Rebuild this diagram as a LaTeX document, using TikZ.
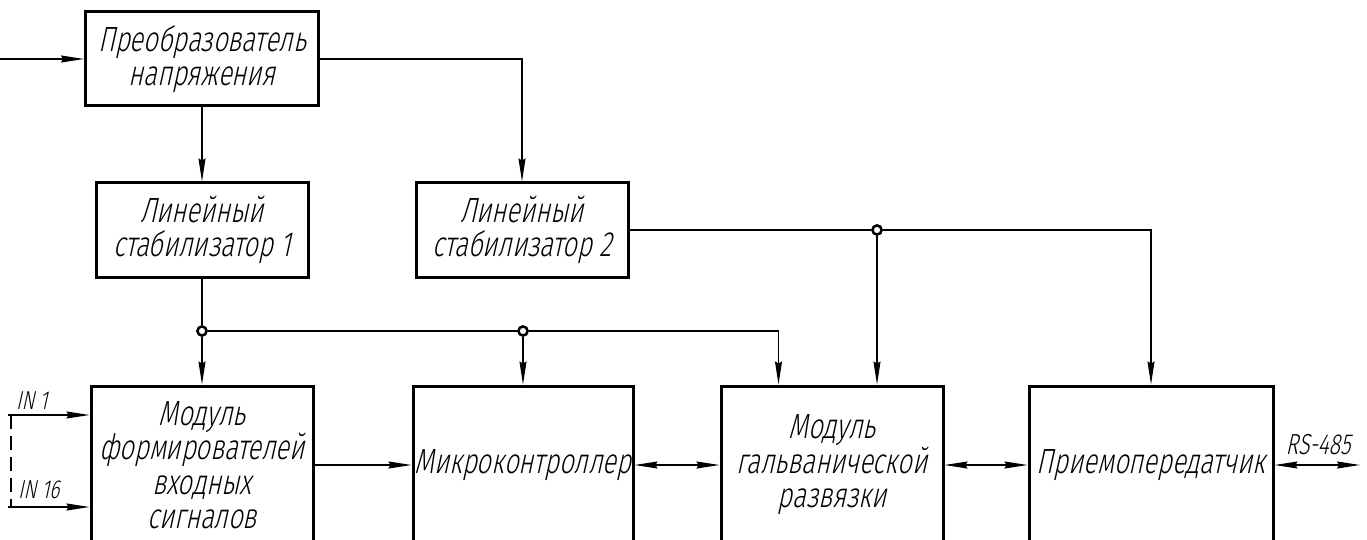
\documentclass[tikz,border=0pt]{standalone}
\usepackage{fontspec}
\newfontfamily\gost{Fira Sans Light}[FakeSlant=0.22,FakeStretch=0.73]
\usetikzlibrary{arrows.meta,calc}
\tikzset{
  block/.style={draw, line width=3pt, rectangle, inner sep=0pt, align=center,
    font=\gost\fontsize{35}{34.5}\selectfont},
  wire/.style={line width=1.4pt},
  tip/.tip={Stealth[length=23pt,width=7pt,inset=2pt]},
  arr/.style={wire, -tip},
  darr/.style={wire, tip-tip},
  junction/.style={circle, draw, fill=white, line width=2.4pt, minimum size=9pt, inner sep=0pt},
  sig/.style={inner sep=0pt}
}
\begin{document}
\begin{tikzpicture}[x=1pt,y=-1pt]
\clip (0,0) rectangle (1367,540);

% power supply chain
\node[block, minimum width=233pt, minimum height=94pt] (conv) at (202,59) {Преобразователь\\напряжения};
\node[block, minimum width=212pt, minimum height=94pt] (stab1) at (202,230) {Линейный\\стабилизатор 1};
\node[block, minimum width=212pt, minimum height=94pt] (stab2) at (522,230) {Линейный\\стабилизатор 2};

% functional modules
\node[block, minimum width=222pt, minimum height=158pt] (form) at (202,465) {Модуль\\формирователей\\входных\\сигналов};
\node[block, minimum width=220pt, minimum height=158pt] (mcu) at (523,465) {Микроконтроллер};
\node[block, minimum width=222pt, minimum height=158pt] (iso) at (832,465) {Модуль\\гальванической\\развязки};
\node[block, minimum width=244pt, minimum height=158pt] (trx) at (1151,465) {Приемопередатчик};

% junction points
\node[junction] (j1) at (202,331) {};
\node[junction] (j2) at (523,331) {};
\node[junction] (j3) at (877,230) {};

% free ends
\coordinate (pin) at (0,59);
\coordinate (in1) at (8,415);
\coordinate (in16) at (8,507);
\coordinate (rs) at (1360,465);

% supply wiring
\draw[arr] (pin) -- (conv.west);
\draw[arr] (conv.south) -- (stab1.north);
\draw[arr] (conv.east) -| (stab2.north);
\draw[wire] (stab1.south) -- (j1);
\draw[arr] (j1) -- (form.north);
\draw[wire] (j1) -- (j2);
\draw[arr] (j2) -- (mcu.north);
\draw[arr] (j2) -| ([xshift=59pt]iso.north west);
\draw[wire] (stab2.east) -- (j3);
\draw[arr] (j3) -- (j3 |- iso.north);
\draw[arr] (j3) -| (trx.north);

% signal path
\draw[arr] (in1) -- (in1 -| form.west);
\draw[arr] (in16) -- (in16 -| form.west);
\draw[wire, dash pattern=on 14pt off 7pt] ([xshift=3pt]in1) -- ([xshift=3pt]in16);
\draw[arr] (form.east) -- (mcu.west);
\draw[darr] (mcu.east) -- (iso.west);
\draw[darr] (iso.east) -- (trx.west);
\draw[darr] (trx.east) -- (rs);

% redraw junctions on top of the wires
\node[junction] at (j1) {};
\node[junction] at (j2) {};
\node[junction] at (j3) {};

% signal labels
\node[sig, font=\gost\fontsize{26}{26}\selectfont, anchor=south west] (l1) at (16,410) {IN 1};
\node[sig, font=\gost\fontsize{26}{26}\selectfont, anchor=south west] (l16) at (18,499) {IN 16};
\node[sig, font=\gost\fontsize{29}{29}\selectfont, anchor=south] (lrs) at (1318,455) {RS-485};
\end{tikzpicture}
\end{document}
